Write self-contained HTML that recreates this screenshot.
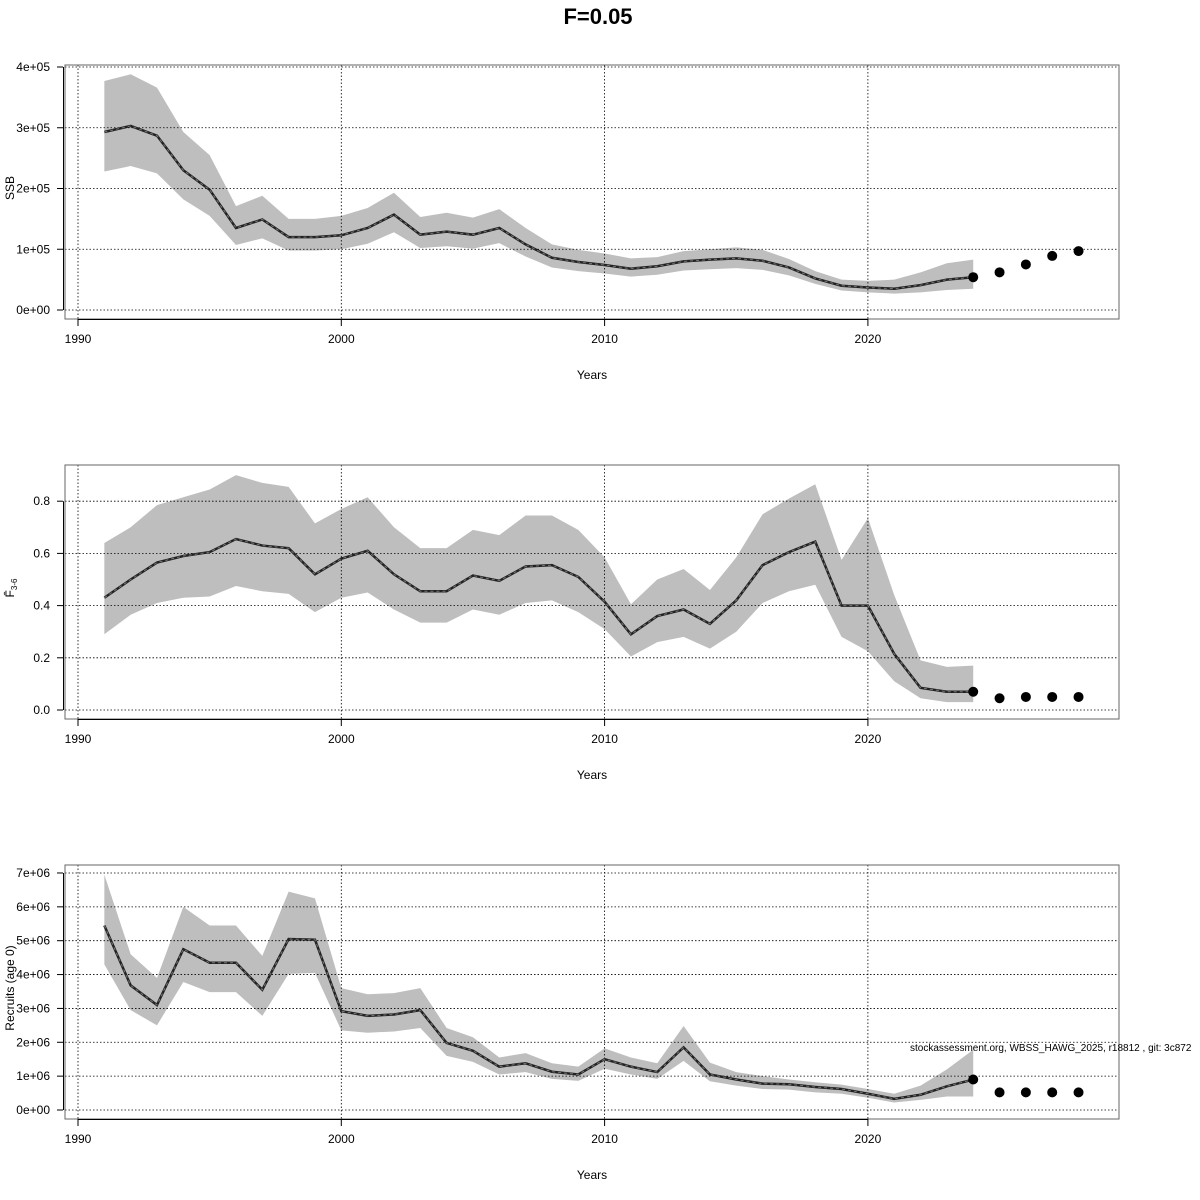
<!DOCTYPE html>
<html><head><meta charset="utf-8"><style>body{margin:0;background:#fff}svg{display:block}text{font-family:"Liberation Sans",sans-serif}</style></head>
<body><svg id="s" width="1200" height="1200" xmlns="http://www.w3.org/2000/svg"></svg>
<script>
const S=document.getElementById('s');let h='';
h+='<text x="598" y="24" font-size="22" font-weight="bold" text-anchor="middle">F=0.05</text>';
const X=y=>78+(y-1990)*26.33;
const yrs=[];for(let y=1991;y<=2024;y++)yrs.push(y);
function panel(top,y0,k,ticks,lab,ylab,mean,up,lo,dots){
 const Y=v=>y0-v*k;const bot=top+254;
 let u=yrs.map((y,i)=>X(y)+','+Y(up[i])).join(' ');
 let l=yrs.map((y,i)=>X(y)+','+Y(lo[i])).reverse().join(' ');
 h+=`<polygon points="${u} ${l}" fill="#bebebe"/>`;
 for(const t of ticks)h+=`<line x1="65" x2="1119" y1="${Y(t)}" y2="${Y(t)}" stroke="#000" stroke-width="0.8" stroke-dasharray="1.5,2"/>`;
 for(const yr of [1990,2000,2010,2020])h+=`<line x1="${X(yr)}" x2="${X(yr)}" y1="${top}" y2="${bot}" stroke="#000" stroke-width="0.8" stroke-dasharray="1.5,2"/>`;
 const pts=yrs.map((y,i)=>X(y)+','+Y(mean[i])).join(' ');
 h+=`<polyline points="${pts}" fill="none" stroke="#222" stroke-width="2.5"/>`;
 h+=`<polyline points="${pts}" fill="none" stroke="#777" stroke-width="1" stroke-dasharray="3,3"/>`;
 dots.forEach((d,i)=>h+=`<circle cx="${X(2024+i)}" cy="${Y(d)}" r="5" fill="#000"/>`);
 h+=`<rect x="65" y="${top}" width="1054" height="254" fill="none" stroke="#666" stroke-width="1"/>`;
 h+=`<line x1="63.5" x2="63.5" y1="${Y(ticks[ticks.length-1])}" y2="${Y(0)}" stroke="#000" stroke-width="1"/>`;
 h+=`<line x1="${X(1990)}" x2="${X(2020)}" y1="${bot+0.5}" y2="${bot+0.5}" stroke="#000" stroke-width="1"/>`;
 ticks.forEach((t,i)=>{h+=`<line x1="57" x2="63" y1="${Y(t)}" y2="${Y(t)}" stroke="#000"/><text x="50" y="${Y(t)+4}" font-size="12" text-anchor="end">${lab[i]}</text>`});
 for(const yr of [1990,2000,2010,2020])h+=`<line x1="${X(yr)}" x2="${X(yr)}" y1="${bot}" y2="${bot+7}" stroke="#000"/><text x="${X(yr)}" y="${bot+24}" font-size="12" text-anchor="middle">${yr}</text>`;
 h+=`<text x="592" y="${bot+60}" font-size="12" text-anchor="middle">Years</text>`;
 h+=`<text transform="translate(14,${(top+bot)/2-4}) rotate(-90)" font-size="12" text-anchor="middle">${ylab}</text>`;
}
panel(65,310,60.75,[0,1,2,3,4],['0e+00','1e+05','2e+05','3e+05','4e+05'],'SSB',
[2.93,3.03,2.87,2.3,1.98,1.35,1.49,1.2,1.2,1.23,1.35,1.57,1.24,1.29,1.24,1.35,1.08,.86,.79,.74,.68,.72,.8,.83,.85,.81,.7,.52,.4,.37,.35,.41,.5,.54],
[3.77,3.88,3.66,2.93,2.55,1.71,1.88,1.5,1.5,1.55,1.68,1.93,1.53,1.6,1.52,1.66,1.35,1.08,.99,.93,.85,.87,.97,1,1.03,.99,.84,.64,.5,.48,.5,.62,.77,.83],
[2.28,2.37,2.25,1.82,1.55,1.07,1.18,.98,.98,1,1.09,1.28,1.02,1.05,1.01,1.1,.88,.7,.64,.6,.55,.58,.65,.67,.69,.66,.57,.43,.32,.29,.27,.29,.33,.35],
[.54,.62,.75,.89,.97]);
panel(465,710,261,[0,.2,.4,.6,.8],['0.0','0.2','0.4','0.6','0.8'],'F̄<tspan font-size="8" dy="3">3-6</tspan>',
[.43,.5,.565,.59,.605,.655,.63,.62,.52,.58,.61,.52,.455,.455,.515,.495,.55,.555,.51,.415,.29,.36,.385,.33,.42,.555,.605,.645,.4,.4,.215,.085,.07,.07],
[.64,.7,.785,.815,.845,.9,.87,.855,.715,.77,.815,.7,.62,.62,.69,.67,.745,.745,.69,.585,.405,.5,.54,.46,.585,.75,.81,.865,.575,.735,.44,.19,.165,.17],
[.29,.365,.41,.43,.435,.475,.455,.445,.375,.43,.45,.385,.335,.335,.385,.365,.41,.42,.375,.31,.205,.26,.28,.235,.3,.41,.455,.48,.28,.225,.11,.045,.03,.03],
[.07,.045,.05,.05,.05]);
panel(865,1110,33.86,[0,1,2,3,4,5,6,7],['0e+00','1e+06','2e+06','3e+06','4e+06','5e+06','6e+06','7e+06'],'Recruits (age 0)',
[5.45,3.68,3.1,4.75,4.35,4.35,3.55,5.05,5.03,2.92,2.78,2.82,2.95,1.98,1.75,1.28,1.38,1.13,1.05,1.5,1.28,1.12,1.85,1.05,.9,.78,.76,.68,.62,.48,.33,.45,.7,.9],
[6.95,4.6,3.9,6,5.45,5.45,4.55,6.45,6.25,3.6,3.42,3.45,3.6,2.42,2.15,1.55,1.68,1.38,1.28,1.82,1.55,1.38,2.48,1.4,1.12,1,.9,.82,.75,.62,.48,.72,1.2,1.78],
[4.3,2.95,2.5,3.78,3.48,3.48,2.78,4.02,4.05,2.35,2.28,2.32,2.42,1.6,1.42,1.05,1.12,.92,.86,1.22,1.05,.92,1.45,.85,.72,.62,.6,.52,.48,.36,.22,.3,.4,.4],
[.9,.52,.52,.52,.52]);
h+='<text x="910" y="1051" font-size="10">stockassessment.org, WBSS_HAWG_2025, r18812 , git: 3c872</text>';
S.innerHTML=h;
</script></body></html>
